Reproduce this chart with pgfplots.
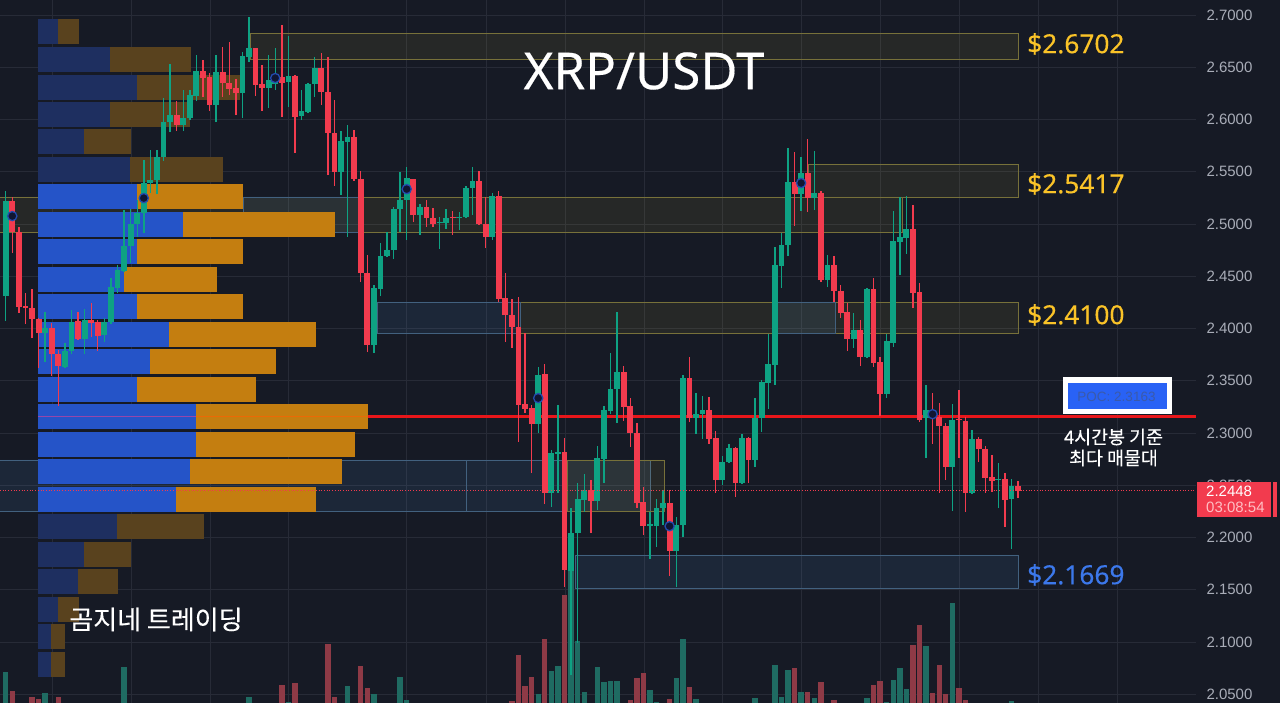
\documentclass[border=0pt]{standalone}
\usepackage{fontspec}
\usepackage{pgfplots}
\usepackage{pgfplotstable}
\pgfplotsset{compat=1.18}
\setmainfont{Noto Sans}
\newfontfamily\nsb[FakeBold=0.3]{Noto Sans}
\newfontfamily\kr[FakeBold=0.25]{Noto Sans CJK KR}
\newfontfamily\lib{Liberation Sans}
\definecolor{bg}{HTML}{161A25}
\definecolor{gridc}{HTML}{272B37}
\definecolor{upg}{HTML}{0EA283}
\definecolor{dnr}{HTML}{F23B4E}
\definecolor{volg}{HTML}{1F6B62}
\definecolor{volr}{HTML}{8E3A46}
\definecolor{bluB}{HTML}{2554C8}
\definecolor{oraB}{HTML}{C47E10}
\definecolor{bluD}{HTML}{1E2F60}
\definecolor{oraD}{HTML}{59421E}
\definecolor{zy}{HTML}{FFE94A}
\definecolor{zb}{HTML}{5AA0E0}
\definecolor{zbl}{HTML}{42617F}
\definecolor{zyl}{HTML}{77713A}
\definecolor{tickc}{HTML}{A9ADB8}
\definecolor{pocP}{RGB}{150,70,170}
\definecolor{pocO}{RGB}{235,105,5}
\definecolor{pocR}{RGB}{232,22,26}
\definecolor{mkD}{RGB}{35,75,175}
\definecolor{mkF}{RGB}{16,22,50}
\definecolor{yel}{RGB}{250,195,40}
\definecolor{blu}{RGB}{60,120,235}
\definecolor{boxb}{RGB}{41,98,245}
\definecolor{boxt}{RGB}{58,90,170}
\definecolor{pink}{RGB}{255,190,195}
\pgfplotstableread{
x o h l c
5.7 2.4311 2.5316 2.4072 2.5220
45.1 2.3957 2.4158 2.3680 2.4005
64.9 2.3632 2.3861 2.3622 2.3785
71.4 2.3785 2.4177 2.3756 2.4062
84.6 2.3900 2.4187 2.3756 2.4082
104.3 2.3938 2.4101 2.3871 2.4062
110.9 2.4062 2.4484 2.4043 2.4397
117.5 2.4388 2.4608 2.4340 2.4560
124 2.4551 2.5134 2.4541 2.4790
130.6 2.4790 2.5144 2.4627 2.5000
137.2 2.5000 2.5230 2.4876 2.5106
143.8 2.5106 2.5613 2.4914 2.5393
150.3 2.5393 2.5708 2.5297 2.5421
156.9 2.5421 2.5708 2.5287 2.5642
163.5 2.5642 2.6206 2.5603 2.5976
170 2.5976 2.6532 2.5881 2.6043
183.2 2.5948 2.6283 2.5890 2.6015
189.8 2.6015 2.6283 2.5996 2.6235
196.3 2.6225 2.6618 2.6177 2.6465
216.1 2.6139 2.6618 2.5976 2.6455
242.4 2.6254 2.6646 2.6015 2.6608
248.9 2.6599 2.6981 2.6551 2.6685
268.7 2.6302 2.6618 2.6110 2.6378
275.2 2.6340 2.6685 2.6283 2.6398
288.4 2.6359 2.6799 2.6120 2.6417
301.5 2.6034 2.6283 2.5996 2.6082
308.1 2.6072 2.6350 2.6063 2.6340
314.7 2.6340 2.6599 2.6216 2.6493
341 2.5498 2.5890 2.5278 2.5795
347.5 2.5785 2.5948 2.4876 2.5833
373.8 2.3842 2.4417 2.3766 2.4388
380.4 2.4378 2.4818 2.4311 2.4694
387 2.4694 2.4924 2.4685 2.4751
393.6 2.4751 2.5163 2.4665 2.5144
400.1 2.5144 2.5498 2.4924 2.5230
406.7 2.5230 2.5546 2.4847 2.5441
419.9 2.5086 2.5192 2.4895 2.5163
439.6 2.5010 2.5067 2.4761 2.5019
446.1 2.5010 2.5144 2.4952 2.5058
459.3 2.5058 2.5115 2.4943 2.5067
465.9 2.5067 2.5364 2.5058 2.5345
472.4 2.5345 2.5546 2.5086 2.5412
492.2 2.4876 2.5297 2.4847 2.5268
538.2 2.3086 2.3632 2.3000 2.3555
551.3 2.2426 2.2837 2.2292 2.2809
557.9 2.2799 2.3268 2.2426 2.2818
571 2.1680 2.2282 2.0680 2.2043
577.6 2.2043 2.2522 2.0990 2.2369
584.2 2.2359 2.2608 2.2244 2.2455
597.3 2.2349 2.2876 2.2263 2.2761
603.9 2.2751 2.3259 2.2522 2.3220
610.5 2.3211 2.3766 2.3182 2.3421
617.1 2.3421 2.4158 2.3096 2.3584
649.9 2.2110 2.2244 2.1794 2.2129
656.5 2.2110 2.2369 2.1909 2.2282
663.1 2.2282 2.2455 2.2120 2.2330
676.2 2.1871 2.2196 2.1526 2.2120
682.8 2.2120 2.3555 2.2005 2.3527
695.9 2.3144 2.3383 2.2991 2.3182
702.5 2.3182 2.3354 2.2943 2.3220
722.2 2.2550 2.2780 2.2503 2.2723
728.8 2.2723 2.2895 2.2713 2.2857
742 2.2522 2.2991 2.2512 2.2952
755.1 2.2742 2.3335 2.2675 2.3144
761.7 2.3144 2.3507 2.3010 2.3488
768.3 2.3479 2.3948 2.3230 2.3661
774.8 2.3651 2.4780 2.3460 2.4608
781.4 2.4598 2.4914 2.4388 2.4799
788 2.4799 2.5728 2.4694 2.5402
801.1 2.5287 2.5642 2.5125 2.5488
814.3 2.5249 2.5699 2.5134 2.5297
827.4 2.4464 2.4704 2.4397 2.4608
853.7 2.3900 2.4149 2.3814 2.3986
866.9 2.3728 2.4388 2.3718 2.4378
886.6 2.3373 2.3948 2.3335 2.3881
893.2 2.3861 2.5125 2.3823 2.4838
899.8 2.4828 2.5259 2.4512 2.4876
906.3 2.4866 2.5268 2.4713 2.4952
926 2.3144 2.3460 2.2761 2.3220
952.3 2.2675 2.3278 2.2254 2.3125
972 2.2426 2.3029 2.2416 2.2943
998.3 2.2550 2.2713 2.2282 2.2560
1011.5 2.2369 2.2560 2.1890 2.2493
}\upc
\pgfplotstableread{
x o h l c
12.3 2.5220 2.5259 2.4723 2.4924
18.8 2.4924 2.4972 2.4149 2.4206
25.4 2.4216 2.4340 2.4043 2.4196
32 2.4196 2.4378 2.3909 2.4091
38.6 2.4091 2.4101 2.3622 2.3957
51.7 2.4005 2.4053 2.3546 2.3756
58.3 2.3756 2.3794 2.3259 2.3641
78 2.4072 2.4158 2.3890 2.3900
91.2 2.4082 2.4244 2.3919 2.4053
97.7 2.4062 2.4082 2.3785 2.3928
176.6 2.6043 2.6177 2.5890 2.5948
202.9 2.6465 2.6570 2.6216 2.6398
209.5 2.6407 2.6445 2.6082 2.6139
222.6 2.6455 2.6694 2.6216 2.6350
229.2 2.6350 2.6742 2.6235 2.6292
235.8 2.6302 2.6388 2.6043 2.6254
255.5 2.6685 2.6685 2.6225 2.6331
262 2.6340 2.6522 2.6082 2.6302
281.8 2.6407 2.6905 2.6024 2.6350
295 2.6417 2.6426 2.5680 2.6024
321.2 2.6493 2.6637 2.6139 2.6264
327.8 2.6264 2.6599 2.5469 2.5871
334.4 2.5871 2.6187 2.5364 2.5498
354.1 2.5833 2.5900 2.5412 2.5431
360.7 2.5431 2.5508 2.4445 2.4531
367.3 2.4531 2.4704 2.3775 2.3842
413.3 2.5431 2.5431 2.5019 2.5086
426.4 2.5163 2.5230 2.4972 2.5058
433 2.5058 2.5153 2.4972 2.5000
452.7 2.5067 2.5125 2.4895 2.5058
479 2.5412 2.5508 2.4991 2.5000
485.6 2.5000 2.5259 2.4771 2.4876
498.7 2.5268 2.5316 2.4254 2.4283
505.3 2.4292 2.4531 2.3871 2.4129
511.9 2.4129 2.4283 2.3814 2.4015
518.4 2.4015 2.4302 2.2914 2.3268
525 2.3278 2.3957 2.3192 2.3230
531.6 2.3239 2.3268 2.2617 2.3086
544.7 2.3565 2.3661 2.2321 2.2426
564.5 2.2818 2.2952 2.1526 2.1689
590.8 2.2455 2.2550 2.2043 2.2349
623.6 2.3584 2.3641 2.3115 2.3249
630.2 2.3259 2.3335 2.2866 2.3000
636.8 2.3000 2.3096 2.2282 2.2330
643.3 2.2340 2.2483 2.2024 2.2110
669.6 2.2330 2.2455 2.1632 2.1871
689.4 2.3527 2.3728 2.3105 2.3144
709.1 2.3220 2.3345 2.2895 2.2943
715.7 2.2952 2.3019 2.2426 2.2550
735.4 2.2857 2.2866 2.2388 2.2522
748.5 2.2952 2.2962 2.2522 2.2742
794.6 2.5402 2.5689 2.4981 2.5287
807.7 2.5488 2.5814 2.5115 2.5249
820.9 2.5297 2.5316 2.4445 2.4464
834 2.4608 2.4694 2.4254 2.4359
840.6 2.4359 2.4417 2.4101 2.4149
847.2 2.4158 2.4244 2.3785 2.3900
860.3 2.3986 2.4082 2.3641 2.3728
873.5 2.4378 2.4484 2.3632 2.3670
880 2.3680 2.3728 2.3163 2.3373
912.9 2.4952 2.5182 2.4196 2.4340
919.5 2.4350 2.4436 2.3105 2.3125
932.6 2.3201 2.3383 2.2895 2.3163
939.2 2.3153 2.3287 2.2426 2.3067
945.7 2.3067 2.3096 2.2550 2.2675
958.9 2.3134 2.3412 2.2761 2.3125
965.5 2.3115 2.3153 2.2244 2.2426
978.6 2.2943 2.2962 2.2723 2.2847
985.2 2.2847 2.2876 2.2426 2.2570
991.8 2.2579 2.2790 2.2436 2.2541
1004.9 2.2560 2.2617 2.2101 2.2359
1018 2.2493 2.2541 2.2378 2.2448
}\dnc
\pgfplotstableread{
x v
5.7 2.0713
45.1 2.0512
124 2.0761
248.9 2.0474
288.4 2.0426
347.5 2.0579
373.8 2.0502
400.1 2.0665
406.7 2.0445
538.2 2.0502
551.3 2.0723
557.9 2.0770
571 2.1680
577.6 2.1010
584.2 2.0522
597.3 2.0761
603.9 2.0617
610.5 2.0627
617.1 2.0627
649.9 2.0541
656.5 2.0426
676.2 2.0656
682.8 2.1029
695.9 2.0455
755.1 2.0464
774.8 2.0780
781.4 2.0474
788 2.0732
801.1 2.0522
814.3 2.0464
866.9 2.0464
886.6 2.0426
893.2 2.0636
899.8 2.0751
906.3 2.0550
926 2.0962
952.3 2.1373
1011.5 2.0435
}\volup
\pgfplotstableread{
x v
12.3 2.0531
32 2.0474
38.6 2.0455
58.3 2.0474
281.8 2.0589
295 2.0608
327.8 2.0981
334.4 2.0474
360.7 2.0770
367.3 2.0560
511.9 2.0435
518.4 2.0876
525 2.0579
531.6 2.0665
544.7 2.1029
564.5 2.1450
630.2 2.0445
636.8 2.0656
643.3 2.0703
669.6 2.0455
689.4 2.0569
794.6 2.0751
807.7 2.0522
820.9 2.0617
834 2.0445
873.5 2.0589
880 2.0627
912.9 2.0971
919.5 2.1163
932.6 2.0512
939.2 2.0780
945.7 2.0502
958.9 2.0560
965.5 2.0445
}\voldn
\pgfplotstableread{
y a b e
2.5263 38 137 243
2.5000 38 183 335
2.4736 38 137 243
2.4473 38 124 217
2.4210 38 137 243
2.3946 38 169 316
2.3683 38 150 276
2.3420 38 137 256
2.3156 38 196 368
2.2893 38 196 355
2.2630 38 190 342
2.2367 38 176 316
}\profB
\pgfplotstableread{
y a b e
2.6842 38 58 79
2.6579 38 110 191
2.6311 38 137 240
2.6047 38 110 190
2.5789 38 84 131
2.5526 38 130 223
2.2103 38 117 204
2.1840 38 84 131
2.1582 38 78 118
2.1314 38 58 79
2.1050 38 51 65
2.0787 38 51 65
}\profD
\begin{document}
\begin{tikzpicture}[x=1pt,y=1pt]
\useasboundingbox (0,0) rectangle (1280,703);
\fill[bg] (0,0) rectangle (1280,703);
\begin{axis}[
  at={(0,0)},anchor=south west,
  scale only axis,width=1196pt,height=703pt,
  xmin=0,xmax=1196,ymin=2.0416,ymax=2.7144,
  axis line style={draw=none},
  major tick length=0pt,
  grid=major,
  major grid style={gridc,line width=0.9pt},
  xtick={52,131,210,288.4,406.7,486,565,644,722,801,880.7,959,1038,1117},
  xticklabels={},
  ytick={2.05,2.10,2.15,2.20,2.25,2.30,2.35,2.40,2.45,2.50,2.55,2.60,2.65,2.70},
  yticklabel pos=right,
  yticklabel style={font=\lib\fontsize{15}{16}\selectfont,text=tickc,anchor=west,xshift=7pt,
    /pgf/number format/fixed,/pgf/number format/fixed zerofill,/pgf/number format/precision=4,
    /pgf/number format/assume math mode=true},
  error bars/error mark=none,
]
% zones
\addplot[forget plot,fill=zy,fill opacity=.07,draw=zyl] coordinates {(250,2.6828)(1018,2.6828)(1018,2.6579)(250,2.6579)(250,2.6828)};
\addplot[forget plot,fill=zy,fill opacity=.07,draw=zyl] coordinates {(808,2.5575)(1018,2.5575)(1018,2.5259)(808,2.5259)(808,2.5575)};
\addplot[forget plot,fill=zy,fill opacity=.07,draw=zyl] coordinates {(-5,2.5259)(902,2.5259)(902,2.4924)(-5,2.4924)(-5,2.5259)};
\addplot[forget plot,fill=zb,fill opacity=.08,draw=zbl] coordinates {(243,2.5259)(363,2.5259)(363,2.4924)(243,2.4924)(243,2.5259)};
\addplot[forget plot,fill=zy,fill opacity=.07,draw=zyl] coordinates {(520,2.4254)(1018,2.4254)(1018,2.3957)(520,2.3957)(520,2.4254)};
\addplot[forget plot,fill=zb,fill opacity=.1,draw=zbl] coordinates {(377,2.4254)(520,2.4254)(520,2.3957)(377,2.3957)(377,2.4254)};
\addplot[forget plot,fill=zb,fill opacity=.1,draw=zbl] coordinates {(777,2.4254)(835,2.4254)(835,2.3957)(777,2.3957)(777,2.4254)};
\addplot[forget plot,fill=zb,fill opacity=.1,draw=zbl] coordinates {(-5,2.2742)(466,2.2742)(466,2.2254)(-5,2.2254)(-5,2.2742)};
\addplot[forget plot,fill=zb,fill opacity=.1,draw=zbl] coordinates {(466,2.2742)(650,2.2742)(650,2.2254)(466,2.2254)(466,2.2742)};
\addplot[forget plot,fill=zy,fill opacity=.07,draw=zyl] coordinates {(567,2.2742)(664,2.2742)(664,2.2254)(567,2.2254)(567,2.2742)};
\addplot[forget plot,fill=zb,fill opacity=.1,draw=zbl] coordinates {(575,2.1833)(1018,2.1833)(1018,2.1517)(575,2.1517)(575,2.1833)};
% volume
\addplot[forget plot,draw=none,mark=none,error bars/.cd,y dir=plus,y explicit,error bar style={draw=volg,line width=5.4pt}] table[x=x,y expr=2.0416,y error expr=\thisrow{v}-2.0416] {\volup};
\addplot[forget plot,draw=none,mark=none,error bars/.cd,y dir=plus,y explicit,error bar style={draw=volr,line width=5.4pt}] table[x=x,y expr=2.0416,y error expr=\thisrow{v}-2.0416] {\voldn};
% volume profile
\addplot[forget plot,draw=none,mark=none,error bars/.cd,x dir=plus,x explicit,error bar style={draw=bluB,line width=25pt}] table[x=a,y=y,x error expr=\thisrow{b}-\thisrow{a}] {\profB};
\addplot[forget plot,draw=none,mark=none,error bars/.cd,x dir=plus,x explicit,error bar style={draw=oraB,line width=25pt}] table[x=b,y=y,x error expr=\thisrow{e}-\thisrow{b}] {\profB};
\addplot[forget plot,draw=none,mark=none,error bars/.cd,x dir=plus,x explicit,error bar style={draw=bluD,line width=25pt}] table[x=a,y=y,x error expr=\thisrow{b}-\thisrow{a}] {\profD};
\addplot[forget plot,draw=none,mark=none,error bars/.cd,x dir=plus,x explicit,error bar style={draw=oraD,line width=25pt}] table[x=b,y=y,x error expr=\thisrow{e}-\thisrow{b}] {\profD};
% POC line
\addplot[forget plot,draw=pocP,line width=1pt] coordinates {(38,2.3157)(196,2.3157)};
\addplot[forget plot,draw=pocO,line width=1.6pt] coordinates {(196,2.3157)(368,2.3157)};
\addplot[forget plot,draw=pocR,line width=3pt] coordinates {(368,2.3157)(1196,2.3157)};
% candles
\addplot[forget plot,draw=none,mark=none,error bars/.cd,y dir=plus,y explicit,error bar style={draw=upg,line width=1.4pt}] table[x=x,y=l,y error expr=\thisrow{h}-\thisrow{l}] {\upc};
\addplot[forget plot,draw=none,mark=none,error bars/.cd,y dir=plus,y explicit,error bar style={draw=dnr,line width=1.4pt}] table[x=x,y=l,y error expr=\thisrow{h}-\thisrow{l}] {\dnc};
\addplot[forget plot,draw=none,mark=none,error bars/.cd,y dir=plus,y explicit,error bar style={draw=upg,line width=5.8pt}] table[x=x,y=o,y error expr=\thisrow{c}-\thisrow{o}] {\upc};
\addplot[forget plot,draw=none,mark=none,error bars/.cd,y dir=plus,y explicit,error bar style={draw=dnr,line width=5.8pt}] table[x=x,y=c,y error expr=\thisrow{o}-\thisrow{c}] {\dnc};
% last price dotted line
\addplot[forget plot,draw=dnr,line width=.7pt,dotted] coordinates {(0,2.2448)(1196,2.2448)};
% signal markers
\addplot[forget plot,only marks,mark=*,mark size=4.6pt,mark options={draw=mkD,fill=mkF,line width=1.3pt}] coordinates {(12.3,2.5076)(143.8,2.5248)(275.2,2.6397)(406.7,2.5334)(538.2,2.3334)(669.6,2.2108)(801.1,2.5392)(932.6,2.3180)};
\end{axis}
% labels (pixel position: x, 703-y)
\node[text=white,font=\nsb\fontsize{51}{56}\selectfont,anchor=center] at (644,632) {XRP/USDT};
\node[text=yel,font=\nsb\fontsize{26.3}{30}\selectfont,anchor=west,inner sep=0pt] at (1027,659) {\$2.6702};
\node[text=yel,font=\nsb\fontsize{26.3}{30}\selectfont,anchor=west,inner sep=0pt] at (1027,519) {\$2.5417};
\node[text=yel,font=\nsb\fontsize{26.3}{30}\selectfont,anchor=west,inner sep=0pt] at (1027,388) {\$2.4100};
\node[text=blu,font=\nsb\fontsize{26.3}{30}\selectfont,anchor=west,inner sep=0pt] at (1027,128) {\$2.1669};
\node[text=white,font=\kr\fontsize{26}{30}\selectfont,anchor=center] at (156,83.5) {곰지네 트레이딩};
\fill[white] (1063,289) rectangle (1172,326);
\fill[boxb] (1068,294) rectangle (1167,320);
\node[text=boxt,font=\lib\fontsize{13.5}{15}\selectfont] at (1116.5,306.5) {POC: 2.3163};
\node[text=white,font=\kr\fontsize{18.4}{22}\selectfont,align=center] at (1113.5,255.5) {4시간봉 기준\\[-1pt]최다 매물대};
\fill[dnr] (1197,186) rectangle (1271,221);
\fill[dnr] (1273,186) rectangle (1277,221);
\node[text=white,font=\lib\fontsize{15}{16}\selectfont,anchor=west,inner sep=0pt] at (1206,212) {2.2448};
\node[text=pink,font=\lib\fontsize{15}{16}\selectfont,anchor=west,inner sep=0pt] at (1206,196) {03:08:54};
\end{tikzpicture}
\end{document}
